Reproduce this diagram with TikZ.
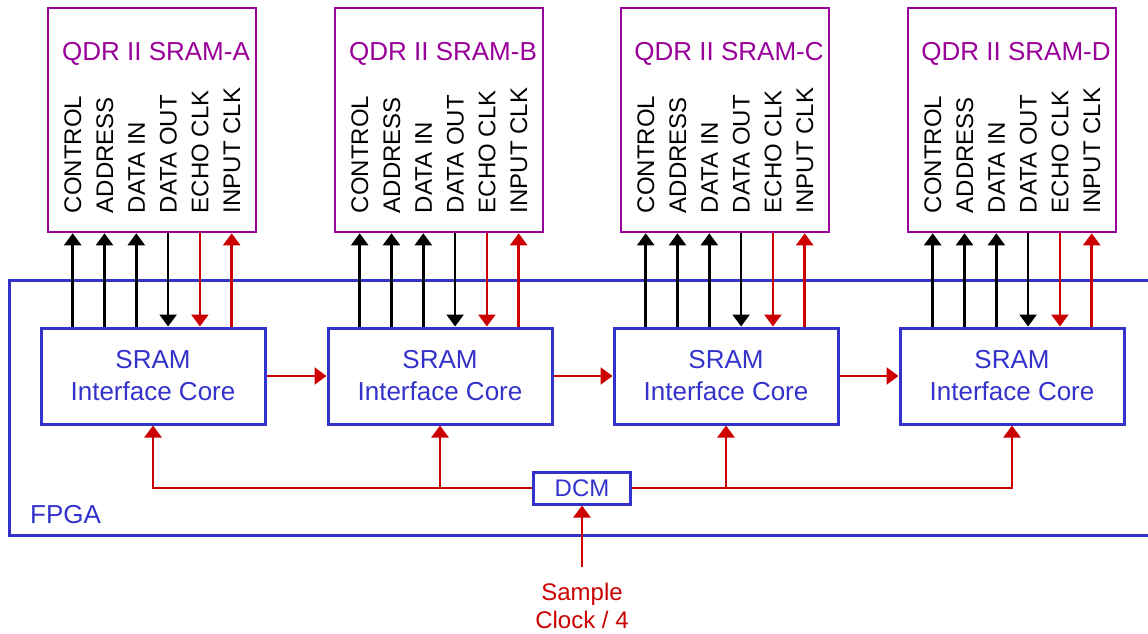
\documentclass[tikz,border=0pt]{standalone}
\usepackage{fontspec}
\setmainfont{Liberation Sans}
\usetikzlibrary{arrows.meta,calc}
\definecolor{qpurple}{RGB}{153,0,153}
\definecolor{qblue}{RGB}{51,51,204}
\definecolor{qred}{RGB}{204,0,0}
\begin{document}
\begin{tikzpicture}[x=1pt,y=-1pt,
  srambox/.style={draw=qpurple,line width=2.6pt,minimum width=208pt,minimum height=224pt,inner sep=0pt},
  sramtitle/.style={text=qpurple,font=\fontsize{26}{30}\selectfont,anchor=base,inner sep=0pt},
  pinlabel/.style={font=\fontsize{24}{28}\selectfont,rotate=90,anchor=base west,inner sep=0pt},
  corebox/.style={draw=qblue,line width=3pt,minimum width=224pt,minimum height=96pt,inner sep=0pt,
    text=qblue,align=center,font=\fontsize{26}{32}\selectfont},
  dcmbox/.style={draw=qblue,line width=3pt,minimum width=97pt,minimum height=32pt,inner sep=0pt,
    text=qblue,font=\fontsize{24}{28}\selectfont},
  arrB/.style={draw=black,line width=2.5pt,-{Triangle[length=12pt,width=17pt]}},
  arrR/.style={draw=qred,line width=2.5pt,-{Triangle[length=12pt,width=17pt]}},
  fpgabox/.style={draw=qblue,line width=3pt},
  clktext/.style={text=qred,align=center,font=\fontsize{24}{28}\selectfont,anchor=north,inner sep=0pt}
]
\clip (0,0) rectangle (1148,634);
\useasboundingbox (0,0) rectangle (1148,634);
\fill[white] (0,0) rectangle (1148,634);

% FPGA outline
\draw[fpgabox] (9,280) rectangle (1175,535);
\node[text=qblue,font=\fontsize{26}{30}\selectfont,anchor=base west,inner sep=0pt] (fpga) at (30,523) {FPGA};

\foreach \n/\sx/\cx in {A/152/153, B/439/440, C/725/726, D/1012/1012}{
  \node[srambox] (s\n) at (\sx,120) {};
  \node[sramtitle] (t\n) at (\sx+4,60) {QDR II SRAM-\n};
  \node[corebox] (c\n) at (\cx,376) {SRAM\\Interface Core};
  \foreach \i/\txt in {0/CONTROL,1/ADDRESS,2/DATA IN,3/DATA OUT,4/ECHO CLK,5/INPUT CLK}{
    \coordinate (p\n\i) at ($(s\n.south west)+(26+31.8*\i,0)$);
    \node[pinlabel] (l\n\i) at ($(p\n\i)+(8.5,-20)$) {\txt};
  }
  \foreach \i in {0,1,2}{
    \draw[arrB] (p\n\i |- c\n.north) -- (p\n\i);
  }
  \draw[arrB] (p\n3) -- (p\n3 |- c\n.north);
  \draw[arrR] (p\n4) -- (p\n4 |- c\n.north);
  \draw[arrR] (p\n5 |- c\n.north) -- (p\n5);
}

\draw[arrR] (cA.east) -- (cB.west);
\draw[arrR] (cB.east) -- (cC.west);
\draw[arrR] (cC.east) -- (cD.west);

\node[dcmbox] (dcm) at (582,488) {DCM};
\draw[arrR] (dcm.west) -| (cA.south);
\draw[arrR] (dcm.east) -| (cD.south);
\draw[arrR] (cB.south |- dcm.west) -- (cB.south);
\draw[arrR] (cC.south |- dcm.east) -- (cC.south);

\node[clktext] (clk) at (582,583) {Sample\\Clock / 4};
\coordinate (clkin) at (582,567);
\draw[arrR] (clkin) -- (dcm.south);
\end{tikzpicture}
\end{document}
